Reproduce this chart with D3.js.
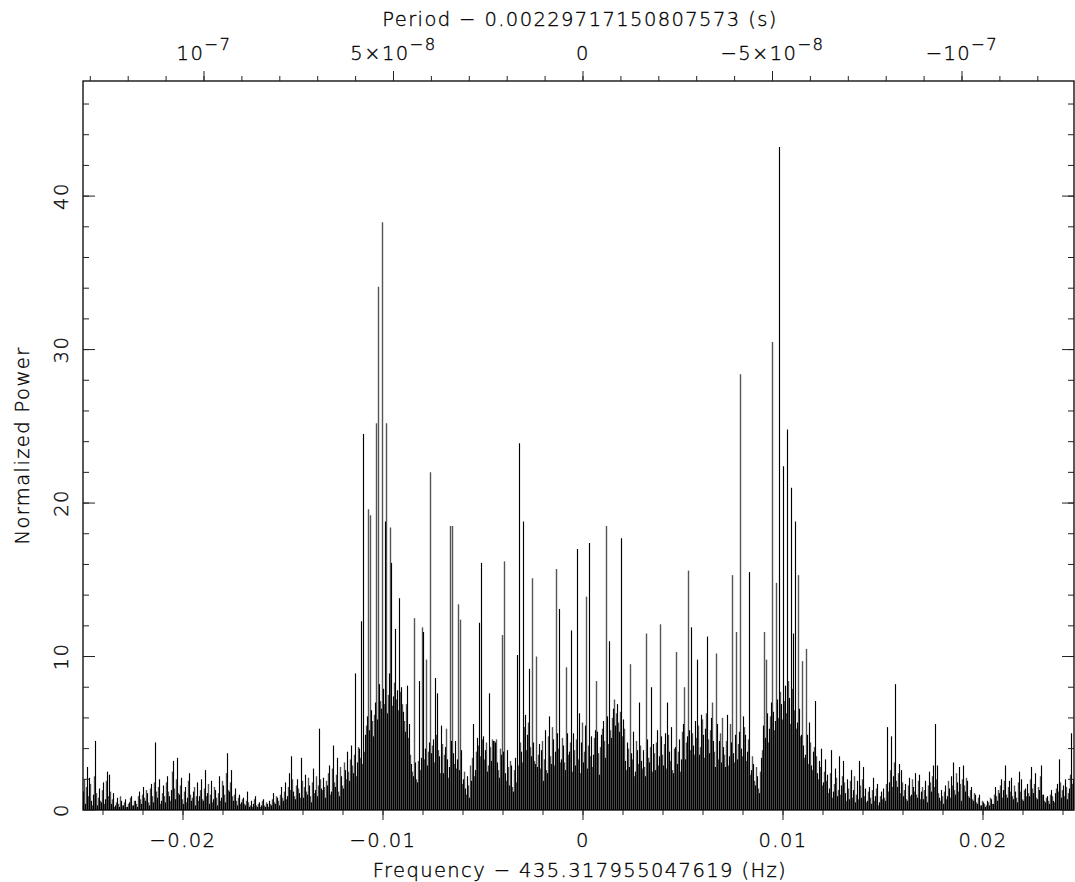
<!DOCTYPE html>
<html><head><meta charset="utf-8">
<script src="https://cdn.jsdelivr.net/npm/d3@7"></script>
<style>
html,body{margin:0;padding:0;background:#fff;}
svg{display:block;}
text{font-family:"DejaVu Sans",sans-serif;font-weight:200;fill:#000;stroke:#000;stroke-width:0.35px;letter-spacing:1.4px;}
</style></head><body>
<svg id="c" width="1075" height="882"></svg>
<script>
// ---- data ----
const f0 = 435.317955047619;          // reference frequency (Hz)
const P0 = 0.00229717150807573;       // reference period (s)
const freqStart = -0.0250;            // frequency offset of first Fourier bin (Hz)
const binWidth = 0.0001;              // Hz per bin
// normalized power at integer Fourier bins
const power = [
 1.2,0.4,2.8,2.1,0.6,1.0,4.5,0.3,1.4,0.5,1.8,0.7,2.5,2.3,0.4,1.1,0.3,0.8,0.2,0.6,
 0.3,0.7,0.2,0.5,0.9,0.3,0.6,0.2,1.2,0.4,1.5,0.6,1.1,0.3,1.7,0.5,4.4,0.8,2.0,0.6,
 1.6,0.5,2.2,0.9,1.3,3.2,0.7,3.4,1.0,2.1,0.4,1.5,0.8,2.4,0.6,1.2,0.3,1.8,0.9,2.0,
 0.6,2.6,1.1,0.4,1.9,0.7,1.3,0.3,2.2,0.8,1.6,0.5,3.7,1.2,2.6,0.6,1.4,0.3,1.0,0.5,
 0.8,0.3,1.2,0.2,0.6,0.4,0.9,0.2,0.5,0.3,0.7,0.2,0.4,0.6,0.3,1.1,0.4,0.8,0.3,1.5,
 0.6,1.8,0.9,2.4,3.5,1.2,0.7,2.0,1.1,3.4,0.8,2.3,1.0,1.6,0.5,2.7,1.3,0.9,5.3,1.4,
 2.1,0.8,1.6,2.9,1.2,4.2,1.5,3.4,0.9,2.2,1.4,2.6,3.8,1.9,4.2,2.4,8.9,3.1,4.0,12.3,
 24.5,4.9,6.1,5.2,6.5,4.8,7.0,5.9,8.2,6.6,7.9,18.8,6.3,8.9,16.1,7.4,11.8,7.8,13.8,8.0,
 6.4,5.1,8.1,5.6,3.0,2.2,3.1,1.8,8.4,3.4,11.6,4.0,2.9,4.4,3.7,4.6,8.6,7.6,3.5,5.5,
 2.4,4.1,3.3,2.8,4.5,3.7,4.5,3.3,2.6,3.9,2.0,1.4,2.2,0.8,1.9,5.6,2.6,4.7,12.2,16.1,
 4.8,3.9,2.5,7.6,3.2,4.5,4.4,3.1,2.1,3.6,3.8,2.4,3.9,1.6,2.9,1.2,3.4,10.1,23.9,3.8,
 18.8,6.2,4.9,9.2,3.5,4.4,3.0,2.8,4.3,3.9,1.9,5.2,2.4,6.1,3.0,4.6,3.8,5.0,13.1,3.3,
 4.2,2.6,5.0,3.8,11.7,5.0,2.9,17.0,6.3,4.4,3.1,5.5,2.7,17.4,4.8,3.6,5.2,5.1,2.3,4.9,
 5.8,3.4,6.1,11.0,4.7,6.6,5.5,6.9,5.1,17.7,5.9,3.2,4.4,2.8,3.7,5.1,2.5,3.9,7.0,3.2,
 3.9,2.2,4.6,3.1,8.0,4.3,2.6,5.2,3.5,4.8,2.9,5.0,7.0,3.8,5.4,2.4,4.1,3.0,4.6,3.3,
 5.6,3.3,4.8,5.2,11.9,4.2,5.8,9.8,3.6,6.2,4.9,5.3,11.3,3.7,6.0,4.5,2.8,5.6,4.5,3.1,
 4.1,2.8,6.2,3.5,4.4,3.7,4.9,3.3,5.1,4.0,6.1,4.9,3.8,15.5,2.6,3.0,1.6,2.2,1.1,3.4,
 5.5,4.7,6.3,5.3,7.0,6.4,5.8,7.2,43.2,6.9,22.4,8.1,24.8,7.3,21.0,11.5,18.8,5.7,6.6,4.9,
 4.2,3.6,4.9,5.7,2.9,3.8,7.1,2.4,3.2,4.0,1.8,3.3,2.3,1.4,3.9,1.2,2.7,0.9,3.5,1.6,
 3.2,1.1,2.0,0.7,2.6,1.3,0.5,1.9,3.2,0.8,2.8,1.4,0.6,1.5,0.4,2.1,0.9,1.7,0.5,1.2,
 1.4,0.6,5.4,1.8,4.8,2.2,8.2,1.5,3.0,2.6,0.9,1.7,0.6,2.1,1.0,1.5,2.4,0.8,2.3,1.2,
 0.7,1.9,0.5,2.5,1.2,2.9,5.6,2.9,0.8,1.3,0.4,1.6,0.9,1.4,2.2,3.1,1.0,1.8,2.8,0.6,
 2.9,1.2,1.9,0.8,1.5,0.6,1.0,0.4,1.0,0.3,0.5,0.2,0.6,0.3,0.7,0.4,1.5,0.6,1.1,2.0,
 1.3,2.9,0.8,1.9,2.1,0.7,1.2,0.5,2.5,2.0,0.6,1.4,1.7,0.9,2.8,1.1,2.4,0.7,1.3,2.9,
 1.0,0.5,0.9,0.4,1.3,0.6,1.1,1.7,3.3,0.8,1.6,2.0,0.7,1.4,5.0,2.0
];
// normalized power at half-bin (interbinned) frequencies
const powerHalf = [
 2.0,1.5,0.9,1.7,0.3,2.2,1.1,0.8,0.6,1.3,0.4,1.9,0.9,1.2,0.7,0.2,0.5,0.4,0.9,0.3,
 0.5,0.2,0.4,0.8,0.3,0.6,0.4,0.9,0.7,1.0,0.8,1.3,0.5,1.4,0.9,1.8,1.2,1.5,0.4,1.1,
 0.9,1.8,1.2,0.6,2.5,1.4,2.0,1.1,1.6,0.7,1.2,0.5,1.9,1.0,0.8,1.5,0.9,0.6,1.3,0.7,
 1.4,0.9,1.7,1.0,0.5,1.5,0.8,1.1,0.6,1.9,1.0,2.4,1.3,1.8,0.9,1.0,0.6,0.8,0.4,0.7,
 0.4,0.6,0.5,0.3,0.2,0.7,0.3,0.4,0.2,0.6,0.3,0.5,0.2,0.4,0.7,0.5,0.9,0.6,1.0,0.8,
 1.2,0.7,1.5,1.3,2.0,0.9,1.6,1.4,0.8,1.9,1.5,1.2,2.1,0.9,1.8,1.1,2.2,1.6,2.0,1.3,
 1.5,1.9,2.4,1.0,2.7,1.8,2.3,1.2,2.8,1.6,3.1,2.0,2.5,3.3,2.9,3.6,2.2,4.1,3.4,3.0,
 3.8,5.5,19.6,19.2,5.8,6.2,25.2,34.1,7.1,38.3,6.9,25.2,7.5,18.4,6.8,8.3,7.2,6.5,7.7,6.9,
 5.8,6.9,4.7,3.6,2.5,12.5,2.0,3.2,2.6,11.9,3.3,9.8,3.8,22.0,4.2,3.1,4.9,3.9,2.4,4.3,
 3.6,5.3,2.1,18.5,18.5,3.0,2.7,13.4,12.4,1.7,2.5,1.0,1.6,2.9,3.4,2.2,3.8,4.2,3.5,4.6,
 3.3,4.4,2.9,4.1,4.6,4.5,4.6,2.6,4.0,11.4,16.2,1.9,2.8,3.2,1.5,2.6,1.8,2.9,4.4,3.1,
 5.4,3.9,5.7,4.1,15.1,3.2,10.0,3.6,2.7,4.5,3.3,2.6,4.8,3.5,5.4,2.9,15.7,4.0,3.1,4.7,
 3.1,9.3,3.6,4.4,2.5,3.9,4.6,3.3,2.4,5.7,3.8,13.9,4.2,3.5,2.8,4.7,8.4,3.7,4.1,5.3,
 4.5,18.5,4.3,5.2,6.0,7.2,6.3,5.7,6.4,4.8,5.3,2.6,4.0,9.5,3.3,2.2,4.5,3.0,4.2,2.7,
 2.8,11.5,3.4,4.1,2.5,3.7,4.4,2.9,12.1,3.6,4.3,2.7,4.9,3.2,2.6,4.0,10.3,3.8,2.5,5.1,
 8.0,4.4,15.6,3.9,5.0,3.6,4.7,5.5,4.1,5.9,3.4,6.3,4.6,5.2,7.0,3.8,10.2,3.3,5.0,6.0,
 3.6,4.5,2.9,5.6,15.3,3.1,11.6,4.3,28.4,3.5,5.4,3.2,4.6,2.3,3.5,1.9,2.8,1.4,2.5,3.9,
 11.6,9.8,4.4,6.1,30.5,5.2,14.8,6.0,7.7,5.9,7.1,6.3,8.4,5.6,7.9,6.5,5.3,15.3,4.8,9.7,
 3.4,10.5,3.0,4.4,2.6,4.1,3.5,2.0,2.8,1.6,2.5,1.9,1.1,2.4,0.8,1.7,2.1,1.3,1.0,2.2,
 1.8,0.6,1.4,1.9,0.8,2.2,1.0,0.7,1.6,2.0,0.9,0.5,1.2,0.8,1.3,0.6,1.4,0.3,0.9,0.7,
 0.8,1.7,1.2,2.6,1.5,3.1,1.9,2.4,1.1,1.8,1.3,0.7,1.6,0.9,2.0,1.2,1.0,1.9,0.7,1.5,
 1.3,0.9,1.6,1.8,2.2,1.5,2.0,1.1,0.6,0.9,1.2,0.7,1.9,0.8,1.6,1.3,2.4,1.2,1.7,2.0,
 1.6,2.1,0.9,1.3,0.7,1.1,0.5,0.8,0.3,0.6,0.4,0.3,0.5,0.8,0.4,1.0,0.9,1.3,1.6,0.8,
 1.9,1.0,1.5,1.2,0.9,1.6,0.8,1.8,1.2,0.7,1.3,0.9,1.1,2.0,1.4,1.7,0.8,1.5,2.2,1.0,
 0.6,0.8,0.6,1.0,0.9,0.5,1.4,1.2,1.8,1.3,0.9,1.5,1.1,2.3,1.7
];
const xDomain = [-0.0250, 0.02455];
const yDomain = [0, 47.5];
const xTicksMajor = [-0.02, -0.01, 0, 0.01, 0.02];
const xTickLabels = ["\u22120.02", "\u22120.01", "0", "0.01", "0.02"];
const yTicksMajor = [0, 10, 20, 30, 40];
const yTickLabels = ["0", "10", "20", "30", "40"];
const pTicksMajor = [1e-7, 5e-8, 0, -5e-8, -1e-7];
const pTickLabels = [["10","\u22127"], ["5\u00d710","\u22128"], ["0",""], ["\u22125\u00d710","\u22128"], ["\u221210","\u22127"]];
const xLabel = "Frequency \u2212 435.317955047619 (Hz)";
const pLabel = "Period \u2212 0.00229717150807573 (s)";
const yLabel = "Normalized Power";

// ---- layout ----
const L = 83, R = 1074, T = 81, B = 810;
const svg = d3.select("#c");
const x = d3.scaleLinear().domain(xDomain).range([L, R]);
const y = d3.scaleLinear().domain(yDomain).range([B, T]);
const p = d3.scaleLinear()
  .domain([1/(f0 + xDomain[0]) - P0, 1/(f0 + xDomain[1]) - P0])
  .range([L, R]);

svg.append("clipPath").attr("id","clip").append("rect")
  .attr("x", L).attr("y", T).attr("width", R-L).attr("height", B-T);

const g = svg.append("g").attr("clip-path","url(#clip)");
const fxHalf = (d,k) => x(freqStart + (k + 0.5)*binWidth) + 0.5;
g.selectAll("line.half").data(powerHalf).join("line")
  .attr("class","half")
  .attr("x1", fxHalf).attr("x2", fxHalf)
  .attr("y1", y(0)).attr("y2", d => y(d))
  .attr("stroke", "#555").attr("stroke-width", 1.4);
const fx = (d,i) => x(freqStart + i*binWidth) + 0.5;
g.selectAll("line.imp").data(power).join("line")
  .attr("class","imp")
  .attr("x1", fx).attr("x2", fx)
  .attr("y1", y(0)).attr("y2", d => y(d))
  .attr("stroke", "#000").attr("stroke-width", 1.15);

// frame
svg.append("rect").attr("x", L).attr("y", T).attr("width", R-L).attr("height", B-T)
  .attr("fill","none").attr("stroke","#000").attr("stroke-width",1.3);

const tickG = svg.append("g").attr("stroke","#222").attr("stroke-width",1);
// bottom ticks (outside)
const xMinor = d3.range(-0.024, 0.0245, 0.002).map(v => +v.toFixed(4));
xMinor.forEach(v => tickG.append("line").attr("x1",x(v)).attr("x2",x(v)).attr("y1",B).attr("y2",B+5));
xTicksMajor.forEach(v => tickG.append("line").attr("x1",x(v)).attr("x2",x(v)).attr("y1",B).attr("y2",B+10));
// top ticks (outside)
const pMinor = d3.range(-12, 14, 1).map(k => k*1e-8);
pMinor.forEach(v => tickG.append("line").attr("x1",p(v)).attr("x2",p(v)).attr("y1",T).attr("y2",T-5));
pTicksMajor.forEach(v => tickG.append("line").attr("x1",p(v)).attr("x2",p(v)).attr("y1",T).attr("y2",T-10));
// left/right ticks (inside)
const yMinor = d3.range(2, 47, 2);
yMinor.forEach(v => {
  tickG.append("line").attr("x1",L).attr("x2",L+6).attr("y1",y(v)).attr("y2",y(v));
  tickG.append("line").attr("x1",R).attr("x2",R-6).attr("y1",y(v)).attr("y2",y(v));
});
yTicksMajor.forEach(v => {
  tickG.append("line").attr("x1",L).attr("x2",L+12).attr("y1",y(v)).attr("y2",y(v));
  tickG.append("line").attr("x1",R).attr("x2",R-12).attr("y1",y(v)).attr("y2",y(v));
});

const FS = 19.5;
// bottom labels
xTicksMajor.forEach((v,i) => svg.append("text").attr("x", x(v)).attr("y", 847)
  .attr("text-anchor","middle").attr("font-size",FS).text(xTickLabels[i]));
svg.append("text").attr("x", 580).attr("y", 877).attr("text-anchor","middle")
  .attr("font-size",FS).text(xLabel);
// top labels
pTicksMajor.forEach((v,i) => {
  const t = svg.append("text").attr("x", p(v)).attr("y", 60)
    .attr("text-anchor","middle").attr("font-size",FS);
  t.append("tspan").text(pTickLabels[i][0]);
  if (pTickLabels[i][1]) t.append("tspan").attr("dy",-10).attr("font-size",16.5).text(pTickLabels[i][1]);
});
svg.append("text").attr("x", 580).attr("y", 26).attr("text-anchor","middle")
  .attr("font-size",FS).text(pLabel);
// y labels
yTicksMajor.forEach((v,i) => svg.append("text")
  .attr("transform",`translate(68,${y(v)}) rotate(-90)`)
  .attr("text-anchor","middle").attr("font-size",FS).text(yTickLabels[i]));
svg.append("text").attr("transform",`translate(29,${(T+B)/2}) rotate(-90)`)
  .attr("text-anchor","middle").attr("font-size",FS).text(yLabel);
</script>
</body></html>
